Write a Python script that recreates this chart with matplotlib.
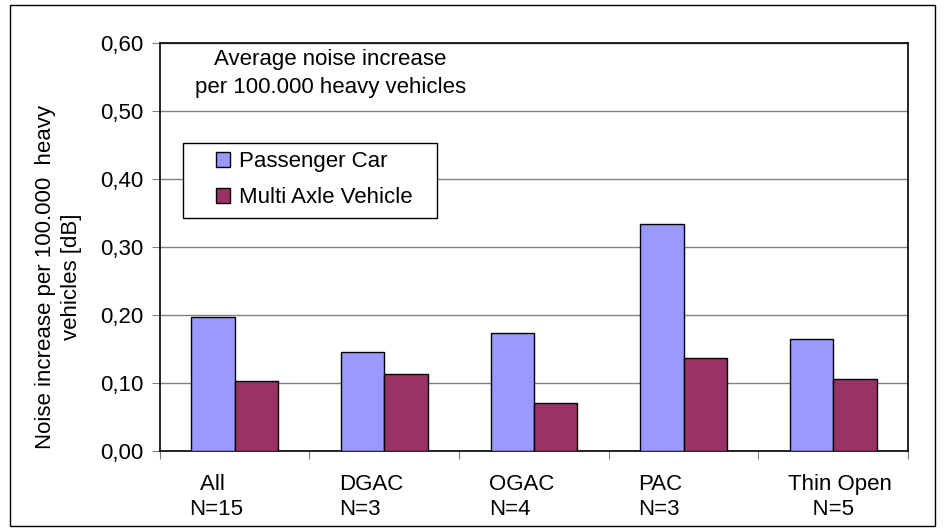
import matplotlib
matplotlib.use('Agg')
import matplotlib.pyplot as plt
from matplotlib.patches import Rectangle
import numpy as np

plt.rcParams['font.family'] = ['Liberation Sans', 'DejaVu Sans']

categories = ['  All\nN=15', 'DGAC\nN=3', 'OGAC\nN=4', 'PAC\nN=3', 'Thin Open\n    N=5']
passenger_car = [0.197, 0.145, 0.174, 0.333, 0.164]
multi_axle = [0.103, 0.113, 0.070, 0.136, 0.105]
y_ticks = [0.0, 0.1, 0.2, 0.3, 0.4, 0.5, 0.6]
y_tick_labels = ['0,00', '0,10', '0,20', '0,30', '0,40', '0,50', '0,60']

fs = 16
fig = plt.figure(figsize=(9.45, 5.31), dpi=100)
ax = fig.add_axes([0.169, 0.151, 0.792, 0.768])

x = np.arange(len(categories))
w = 0.29
ax.bar(x - w / 2, passenger_car, w, color='#9999FF', edgecolor='black',
       linewidth=1, label='Passenger Car', zorder=3)
ax.bar(x + w / 2, multi_axle, w, color='#993366', edgecolor='black',
       linewidth=1, label='Multi Axle Vehicle', zorder=3)

ax.set_xlim(-0.5, len(categories) - 0.5)
ax.set_ylim(0, 0.6)
ax.set_yticks(y_ticks)
ax.set_yticklabels(y_tick_labels, fontsize=fs)
ax.yaxis.grid(True, color='#808080', linewidth=1)
ax.set_axisbelow(True)

# ticks on category boundaries, labels written under each group
ax.set_xticks(np.arange(len(categories) + 1) - 0.5)
ax.set_xticklabels([])
ax.tick_params(axis='x', which='major', length=6, color='#808080')
ax.tick_params(axis='y', length=6, color='#808080', pad=6)
for xi, cat in zip(x, categories):
    ax.annotate(cat, xy=(xi, 0), xycoords=('data', 'axes fraction'),
                xytext=(-32.5, -17), textcoords='offset points',
                ha='left', va='top', fontsize=fs, linespacing=1.2,
                multialignment='left', annotation_clip=False)

for s in ax.spines.values():
    s.set_color('black')
    s.set_linewidth(1.2)

fig.text(0.062, 0.478, 'Noise increase per 100.000  heavy\nvehicles [dB]',
         rotation=90, ha='center', va='center', fontsize=fs,
         multialignment='center', linespacing=1.35)

ax.text(0.228, 0.985, 'Average noise increase\nper 100.000 heavy vehicles',
        transform=ax.transAxes, ha='center', va='top', fontsize=fs,
        linespacing=1.45)

# legend entries with a separate box around them
leg = ax.legend(loc='upper left', bbox_to_anchor=(0.075, 0.735), fontsize=fs,
                frameon=False, handlelength=0.63, handleheight=0.63,
                borderpad=0, labelspacing=0.68, handletextpad=0.4,
                borderaxespad=0)
for h in leg.legend_handles:
    h.set_linewidth(1)
ax.add_patch(Rectangle((0.031, 0.571), 0.339, 0.184, transform=ax.transAxes,
                       facecolor='white', edgecolor='black', linewidth=1,
                       zorder=4))
leg.set_zorder(5)

# outer chart border
fig.patches.append(Rectangle((0.011, 0.01), 0.978, 0.98, transform=fig.transFigure,
                             fill=False, edgecolor='black', linewidth=1))

fig.savefig('out.png', dpi=100)
